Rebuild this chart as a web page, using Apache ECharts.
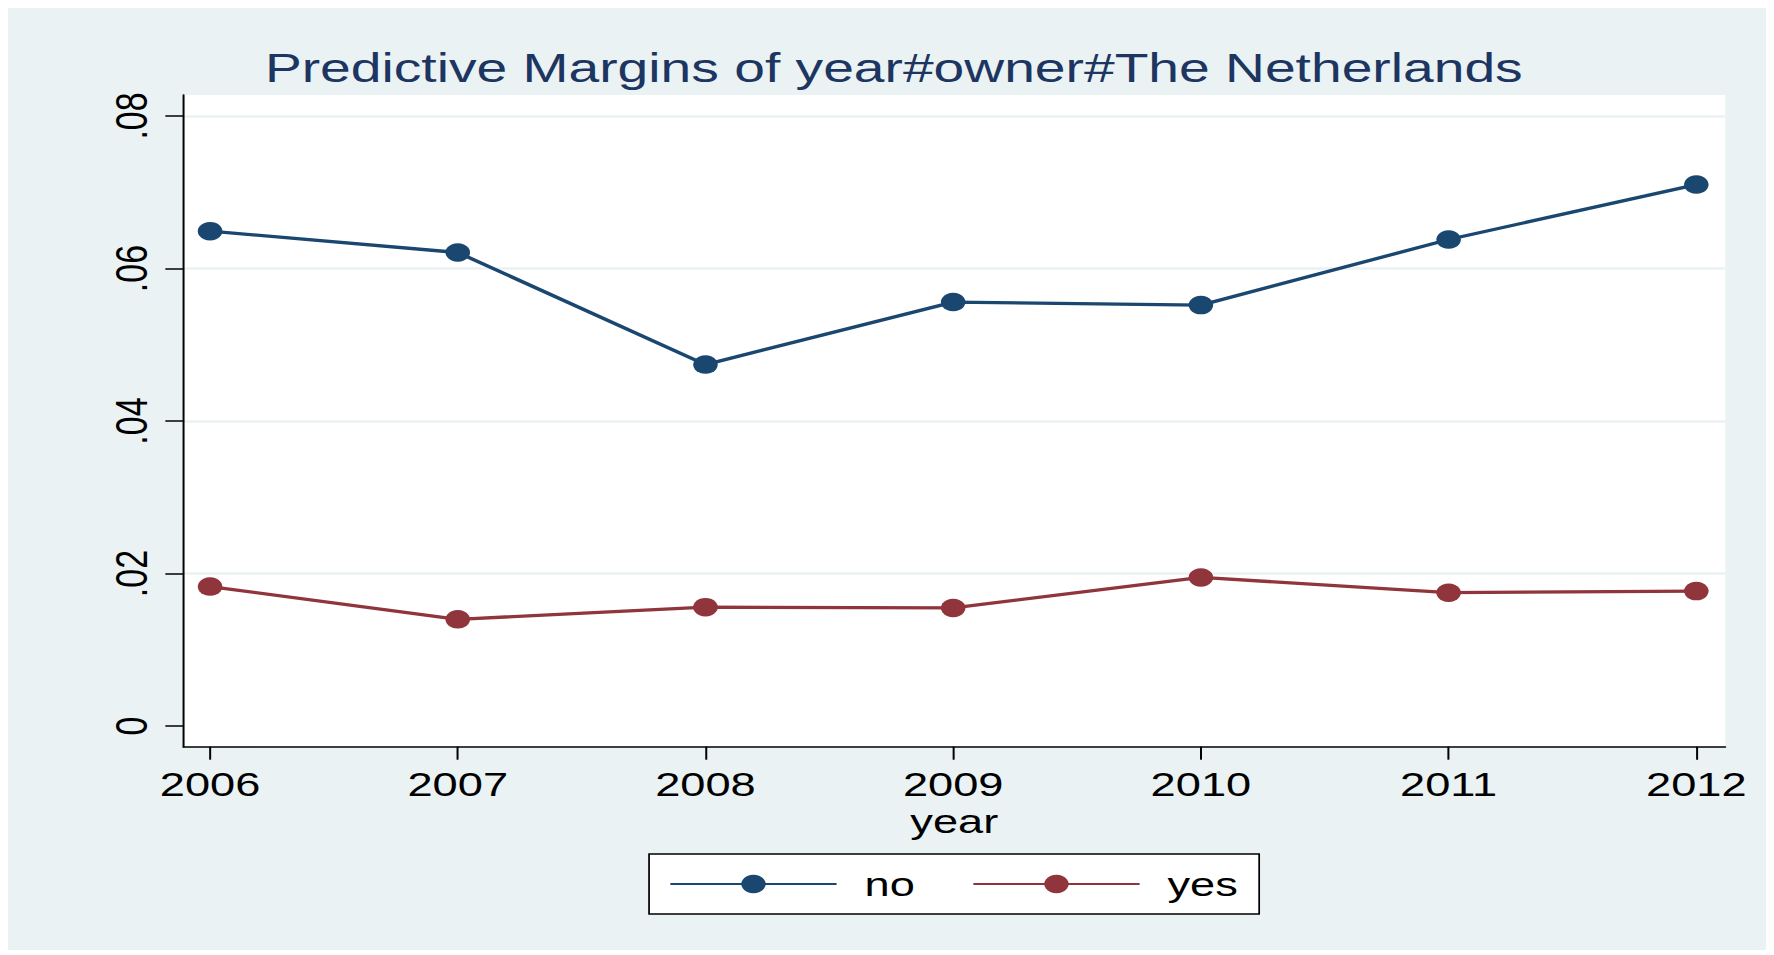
<!DOCTYPE html>
<html>
<head>
<meta charset="utf-8">
<title>Predictive Margins of year#owner#The Netherlands</title>
<script src="https://cdn.jsdelivr.net/npm/echarts@6/dist/echarts.min.js"></script>
<style>
  html, body { margin: 0; padding: 0; background: #ffffff; width: 1774px; height: 955px; overflow: hidden; }
  /* The graph is laid out on a narrower canvas and stretched horizontally,
     which gives the wide glyphs and oval markers of the exported Stata graph. */
  #chart { position: absolute; left: 8px; top: 8px; width: 1321.8px; height: 942px;
           transform: scaleX(1.33); transform-origin: 0 0; }
</style>
</head>
<body>
<div id="chart"></div>
<script>
// ---- data -------------------------------------------------------------
const years = [2006, 2007, 2008, 2009, 2010, 2011, 2012];
const ownerNo = [0.0649, 0.0621, 0.0474, 0.0556, 0.0552, 0.0638, 0.0710];
const ownerYes = [0.0183, 0.0140, 0.0156, 0.0155, 0.0195, 0.0175, 0.0177];
const seriesNames = ['no', 'yes'];
const yTicks = [0, 0.02, 0.04, 0.06, 0.08];
const yTickLabels = ['0', '.02', '.04', '.06', '.08'];
const yGridValues = [0.02, 0.04, 0.06, 0.08];
const titleText = 'Predictive Margins of year#owner#The Netherlands';
const xTitle = 'year';

// ---- styling ----------------------------------------------------------
const FONT = '"Liberation Sans", Arial, Helvetica, sans-serif';
const NAVY = '#1A476F';
const MAROON = '#90353B';
const BG = '#EAF2F3';
const Y_MIN = -0.0027, Y_MAX = 0.08275;
const X_MIN = 2005.892, X_MAX = 2012.117;

const pairs = vals => years.map((yr, i) => [yr, vals[i]]);
const yLabel = v => {
  const i = yTicks.findIndex(t => Math.abs(t - v) < 1e-9);
  return i >= 0 ? yTickLabels[i] : '';
};

const axisBlack = { color: '#000000', width: 1.5 };

const chart = echarts.init(document.getElementById('chart'), null, { renderer: 'svg' });

const lineSeries = (name, vals, color) => ({
  name: name,
  type: 'line',
  data: pairs(vals),
  xAxisIndex: 0,
  yAxisIndex: 0,
  symbol: 'circle',
  symbolSize: 18.5,
  showSymbol: true,
  z: 3,
  lineStyle: { color: color, width: 3.3 },
  itemStyle: { color: color, borderWidth: 0 },
  emphasis: { disabled: true }
});

chart.setOption({
  animation: false,
  backgroundColor: BG,
  textStyle: { fontFamily: FONT },
  graphic: [{
    type: 'text',
    x: 666,
    y: 60,
    silent: true,
    style: {
      text: titleText,
      fill: '#1C3561',
      fontSize: 41.5,
      fontFamily: FONT,
      align: 'center',
      verticalAlign: 'middle'
    }
  }],
  grid: {
    left: 131.8,
    right: 30.8,
    top: 87,
    bottom: 203.3,
    show: true,
    backgroundColor: '#ffffff',
    borderWidth: 0,
    containLabel: false,
    outerBoundsMode: 'none'
  },
  xAxis: {
    type: 'value',
    min: X_MIN,
    max: X_MAX,
    name: xTitle,
    nameLocation: 'middle',
    nameGap: 60,
    nameMoveOverlap: false,
    nameTextStyle: { fontSize: 34, lineHeight: 28, color: '#000000', fontFamily: FONT },
    axisLine: { show: true, onZero: false, lineStyle: axisBlack },
    axisTick: { show: true, customValues: years, length: 13, lineStyle: axisBlack },
    axisLabel: {
      customValues: years,
      formatter: v => String(v),
      fontSize: 34,
      lineHeight: 28,
      color: '#000000',
      fontFamily: FONT,
      margin: 23
    },
    splitLine: { show: false }
  },
  yAxis: [{
    type: 'value',
    min: Y_MIN,
    max: Y_MAX,
    position: 'left',
    axisLine: { show: true, onZero: false, lineStyle: axisBlack },
    axisTick: { show: true, customValues: yTicks, length: 13.5, lineStyle: axisBlack },
    axisLabel: {
      customValues: yTicks,
      formatter: yLabel,
      rotate: 90,
      fontSize: 34,
      color: '#000000',
      fontFamily: FONT,
      margin: 22
    },
    splitLine: { show: false }
  }, {
    // grid lines only (none at zero)
    type: 'value',
    min: Y_MIN,
    max: Y_MAX,
    position: 'left',
    axisLine: { show: false },
    axisTick: { show: false, customValues: yGridValues },
    axisLabel: { show: false, customValues: yGridValues },
    splitLine: { show: true, lineStyle: { color: BG, width: 2.6 } }
  }],
  legend: {
    data: seriesNames,
    orient: 'horizontal',
    left: 482,
    top: 846,
    itemWidth: 125,
    itemHeight: 23,
    itemGap: 43,
    padding: [13, 16, 13, 15],
    backgroundColor: '#ffffff',
    borderColor: '#000000',
    borderWidth: 1.3,
    borderRadius: 0,
    selectedMode: false,
    textStyle: { fontSize: 34, color: '#000000', fontFamily: FONT, padding: [0, 0, 0, 16] }
  },
  series: [
    lineSeries(seriesNames[0], ownerNo, NAVY),
    lineSeries(seriesNames[1], ownerYes, MAROON)
  ]
});
</script>
</body>
</html>
